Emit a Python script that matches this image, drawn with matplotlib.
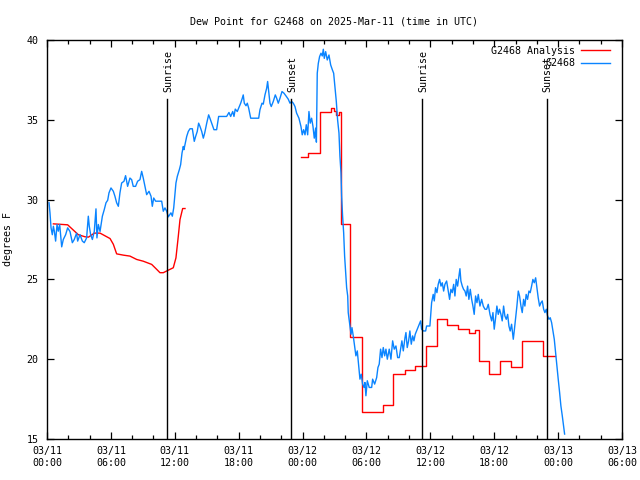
import matplotlib
matplotlib.use('Agg')
import matplotlib.pyplot as plt
from matplotlib.ticker import MultipleLocator

# hours since 2025-03-11 00:00 UTC, dew point in deg F
obs_hours = [0.19, 0.28, 0.38, 0.5, 0.6, 0.69, 0.81, 0.94, 1.06, 1.19, 1.38, 1.53, 1.75, 1.94, 2.16,
             2.38, 2.56, 2.78, 2.88, 3.1, 3.32, 3.5, 3.72, 3.88, 3.97, 4.1, 4.26, 4.44, 4.6, 4.69,
             4.82, 4.98, 5.2, 5.38, 5.54, 5.7, 5.82, 6.01, 6.23, 6.38, 6.54, 6.7, 6.85, 7.01, 7.23,
             7.38, 7.57, 7.79, 7.95, 8.1, 8.32, 8.51, 8.73, 8.89, 9.04, 9.2, 9.36, 9.58, 9.77, 9.89,
             10.02, 10.2, 10.45, 10.77, 10.92, 11.08, 11.24, 11.39, 11.64, 11.77, 11.9, 12.0, 12.11,
             12.24, 12.43, 12.55, 12.68, 12.8, 12.86, 12.99, 13.12, 13.27, 13.43, 13.65, 13.74, 13.83,
             13.96, 14.11, 14.24, 14.37, 14.53, 14.68, 14.81, 15.0, 15.18, 15.3, 15.46, 15.68, 15.93,
             16.12, 16.4, 16.87, 17.09, 17.25, 17.44, 17.56, 17.68, 17.87, 18.06, 18.19, 18.34, 18.43,
             18.53, 18.69, 18.81, 18.94, 19.13, 19.53, 19.88, 20.0, 20.19, 20.31, 20.47, 20.63, 20.72,
             20.85, 20.94, 21.06, 21.25, 21.44, 21.57, 21.72, 21.88, 22.07, 22.25, 22.44, 22.66, 22.82,
             22.97, 23.13, 23.29, 23.44, 23.66, 23.85, 23.97, 24.1, 24.23, 24.35, 24.48, 24.6, 24.72,
             24.85, 24.98, 25.1, 25.23, 25.3, 25.38, 25.48, 25.6, 25.73, 25.85, 25.95, 26.04, 26.17,
             26.32, 26.48, 26.64, 26.8, 26.92, 27.04, 27.17, 27.29, 27.42, 27.51, 27.61, 27.67, 27.76,
             27.86, 27.95, 28.05, 28.14, 28.24, 28.29, 28.45, 28.55, 28.64, 28.76, 28.92, 29.01, 29.14,
             29.27, 29.39, 29.51, 29.64, 29.77, 29.86, 29.95, 30.08, 30.26, 30.49, 30.58, 30.77, 30.96,
             31.08, 31.2, 31.33, 31.46, 31.58, 31.71, 31.83, 31.96, 32.14, 32.3, 32.46, 32.61, 32.77,
             32.93, 33.08, 33.21, 33.33, 33.46, 33.62, 33.71, 33.83, 33.96, 34.08, 34.21, 34.34, 34.46,
             34.58, 34.77, 34.96, 35.09, 35.18, 35.34, 35.56, 35.65, 35.96, 36.06, 36.12, 36.27, 36.37,
             36.49, 36.62, 36.74, 36.87, 37.0, 37.12, 37.25, 37.37, 37.53, 37.68, 37.81, 37.93, 38.06,
             38.19, 38.31, 38.43, 38.56, 38.69, 38.78, 38.87, 39.0, 39.12, 39.25, 39.37, 39.5, 39.62,
             39.75, 39.88, 40.0, 40.12, 40.25, 40.38, 40.5, 40.66, 40.82, 40.97, 41.13, 41.29, 41.44,
             41.6, 41.76, 41.88, 42.0, 42.13, 42.25, 42.38, 42.5, 42.63, 42.75, 42.88, 43.0, 43.13,
             43.26, 43.38, 43.5, 43.63, 43.79, 43.88, 44.01, 44.13, 44.26, 44.38, 44.51, 44.63, 44.76,
             44.88, 45.0, 45.13, 45.26, 45.38, 45.51, 45.63, 45.76, 45.89, 46.01, 46.13, 46.26, 46.39,
             46.51, 46.64, 46.76, 46.89, 47.01, 47.14, 47.26, 47.39, 47.51, 47.64, 47.76, 47.89, 48.01,
             48.14, 48.26, 48.39, 48.51, 48.61]
obs_dewpt = [29.8, 29.17, 28.23, 27.8, 28.33, 28.02, 27.4, 28.44, 28.02, 28.44, 27.04, 27.5, 27.8, 28.23, 28.0,
             27.3, 27.5, 27.9, 27.4, 27.8, 27.4, 27.3, 27.6, 28.96, 28.33, 27.8, 27.5, 28.0, 29.42, 27.6,
             28.44, 28.0, 28.96, 29.38, 29.8, 29.96, 30.42, 30.73, 30.52, 30.21, 29.8, 29.58, 30.42, 31.04, 31.15,
             31.5, 30.83, 31.35, 31.25, 30.83, 30.83, 31.15, 31.25, 31.77, 31.35, 30.83, 30.31, 30.52, 30.21, 29.58,
             30.1, 29.9, 29.9, 29.9, 29.27, 29.48, 29.27, 28.92, 29.17, 28.96, 29.48, 30.2, 31.04,
             31.46, 31.88, 32.19, 32.92, 33.33, 33.13, 33.54, 33.96, 34.27, 34.44, 34.44, 34.06, 33.65,
             33.96, 34.27, 34.79, 34.58, 34.27, 33.85, 34.17, 34.79, 35.31, 35.1, 34.79, 34.38, 34.38,
             35.21, 35.21, 35.21, 35.46, 35.21, 35.52, 35.21, 35.67, 35.52, 35.83, 36.04, 36.35, 36.56,
             36.04, 35.88, 36.04, 35.73, 35.1, 35.1, 35.1, 35.63, 36.04, 35.98, 36.56, 36.98, 37.4,
             36.56, 36.04, 35.83, 36.15, 36.56, 36.35, 36.04, 36.35, 36.77, 36.67, 36.5, 36.29, 36.04,
             36.15, 36.04, 35.83, 35.42, 35.1, 34.58, 34.06, 34.38, 34.06, 34.69, 34.06, 35.52, 34.79,
             35.1, 34.58, 33.85, 34.48, 33.6, 37.92, 38.54, 38.96, 39.17, 39.0, 39.42, 38.85, 39.27,
             38.75, 39.06, 38.44, 38.13, 37.92, 37.08, 36.15, 35.0, 34.17, 32.71, 31.67, 30.21, 28.96,
             27.92, 26.46, 25.42, 24.48, 23.96, 22.92, 22.08, 21.56, 21.98, 21.46, 20.63, 20.21, 20.52,
             19.58, 18.75, 19.06, 18.44, 18.23, 18.54, 17.71, 18.65, 18.23, 18.23, 18.75, 18.44, 18.85,
             19.48, 19.69, 20.63, 20.1, 20.73, 20.21, 20.63, 20.0, 20.63, 20.0, 21.15, 20.63, 20.83,
             20.1, 20.1, 20.63, 21.15, 20.52, 21.35, 21.67, 20.73, 21.15, 21.77, 20.94, 21.46, 21.15,
             21.56, 21.88, 22.19, 22.4, 21.88, 21.77, 21.77, 22.08, 22.08, 23.02, 23.54, 24.06, 23.65,
             24.48, 24.17, 24.69, 25.0, 24.58, 24.79, 24.27, 24.69, 24.9, 24.27, 23.75, 24.38, 24.17,
             24.69, 23.96, 25.0, 24.58, 25.21, 25.67, 24.9, 24.58, 24.38, 24.27, 23.96, 24.58, 23.75,
             24.38, 23.75, 23.33, 22.81, 23.96, 23.54, 24.06, 23.33, 23.75, 23.33, 23.13, 23.13, 23.44,
             22.81, 22.4, 22.92, 21.88, 22.6, 23.33, 22.81, 23.13, 22.81, 22.4, 23.33, 22.71, 22.5,
             22.81, 22.08, 21.77, 22.19, 21.25, 21.77, 22.6, 23.33, 24.27, 23.96, 23.33, 22.92, 23.75,
             23.33, 24.06, 23.75, 24.27, 24.17, 24.58, 25.0, 24.79, 25.1, 24.48, 23.85, 23.33, 23.54,
             23.65, 23.13, 22.92, 23.13, 22.71, 22.5, 22.6, 22.29, 21.77, 21.25, 20.42, 19.58, 18.75,
             17.92, 17.08, 16.46, 15.83, 15.31]

# analysis, first day (piecewise line)
ana1_hours = [0.6, 1.94, 2.94, 3.57, 3.9, 4.44, 4.98, 5.92, 6.23, 6.54, 7.17, 7.79, 8.42, 9.04, 9.83,
              10.3, 10.61, 10.92, 11.55, 11.86, 12.11, 12.33, 12.49, 12.74, 12.96]
ana1_dewpt = [28.48, 28.42, 27.8, 27.67, 27.65, 27.9, 27.9, 27.56, 27.2, 26.6, 26.52, 26.46, 26.25, 26.14, 25.94,
              25.63, 25.42, 25.42, 25.63, 25.73, 26.35, 27.7, 28.75, 29.44, 29.44]

# analysis, second part (stepped)
ana2_hours = [23.9, 24.54, 25.63, 26.63, 26.95, 27.14, 27.45, 27.58, 28.45, 29.55, 31.58, 32.52, 33.62,
              34.55, 35.62, 36.59, 37.59, 38.15, 38.56, 39.62, 40.19, 40.59, 41.5, 42.54, 43.57, 44.57,
              45.61, 46.6, 47.7]
ana2_dewpt = [32.67, 32.9, 35.52, 35.73, 35.56, 35.31, 35.46, 28.5, 21.4, 16.7, 17.1, 19.1, 19.3,
              19.6, 20.85, 22.54, 22.13, 22.16, 21.92, 21.63, 21.83, 19.9, 19.05, 19.9, 19.54, 21.17,
              21.13, 20.23, 20.23]

sun_hours = [11.3, 22.95, 35.24, 46.92]
sun_labels = ['Sunrise', 'Sunset', 'Sunrise', 'Sunset']

xtick_hours = [0, 6, 12, 18, 24, 30, 36, 42, 48, 54]
xtick_labels = ['03/11\n00:00', '03/11\n06:00', '03/11\n12:00', '03/11\n18:00', '03/12\n00:00',
                '03/12\n06:00', '03/12\n12:00', '03/12\n18:00', '03/13\n00:00', '03/13\n06:00']

FS = 7.2
plt.rcParams['font.family'] = 'DejaVu Sans Mono'
plt.rcParams['font.size'] = FS

fig = plt.figure(figsize=(6.4, 4.8), dpi=100)
ax = fig.add_axes([47 / 640, 1 - 439 / 480, 575 / 640, 399 / 480])

ax.plot(ana1_hours, ana1_dewpt, color='#ff0000', lw=1.0, label='G2468 Analysis')
ax.plot(ana2_hours, ana2_dewpt, color='#ff0000', lw=1.0, drawstyle='steps-post')
ax.plot(obs_hours, obs_dewpt, color='#0a84ff', lw=1.0, label='G2468')

for h, lab in zip(sun_hours, sun_labels):
    ax.plot([h, h], [15, 36.3], color='black', lw=1.0)
    ax.text(h + 0.1, 36.75, lab, rotation=90, ha='center', va='bottom')

ax.set_xlim(0, 54)
ax.set_ylim(15, 40)
ax.set_xticks(xtick_hours)
ax.set_xticklabels(xtick_labels, linespacing=1.25)
ax.xaxis.set_minor_locator(MultipleLocator(2))
ax.yaxis.set_major_locator(MultipleLocator(5))
ax.tick_params(which='both', direction='in', top=True, right=True, width=0.9, colors='black')
ax.tick_params(which='major', length=5)
ax.tick_params(which='minor', length=3)
ax.tick_params(axis='x', pad=5)
ax.tick_params(axis='y', pad=6)
for s in ax.spines.values():
    s.set_linewidth(1.0)

ax.set_ylabel('degrees F', labelpad=10, fontsize=FS)
ax.set_title('Dew Point for G2468 on 2025-Mar-11 (time in UTC)', pad=11, fontsize=FS)

ax.legend(loc='upper right', bbox_to_anchor=(0.983, 0.99), frameon=False, markerfirst=False,
          handlelength=2.9, fontsize=FS, handletextpad=0.6, labelspacing=0.25,
          borderaxespad=0, borderpad=0.2)

fig.savefig('out.png', dpi=100)
